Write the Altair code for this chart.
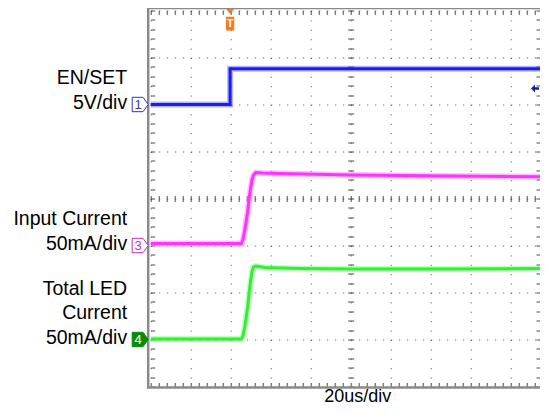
import altair as alt
import pandas as pd

# ---------------- time base / screen ----------------
T_MIN = -100.0          # left edge of the screen (us)
T_MAX = 94.65           # right edge kept inside the page (us)
US_PER_DIV = 20.0
N_XDIV = 10
N_YDIV = 4              # +-4 vertical divisions
timebase_label = "20us/div"

# ---------------- channels ----------------
ch_names = ["EN/SET", "Input Current", "Total LED Current"]
ch_numbers = ["1", "3", "4"]
ch_offset_div = [2.0, -1.0, -3.0]
ch_per_div = [5.0, 50.0, 50.0]          # V/div, mA/div, mA/div
ch_colors = ["#1a1aff", "#ff33ff", "#33ee33"]
ch_halo = ["#6a6aff", "#ff80ff", "#80ff80"]
ch_label_lines = [["EN/SET", "5V/div"],
                  ["Input Current", "50mA/div"],
                  ["Total LED", "Current", "50mA/div"]]
ch_marker_fill = ["#ffffff", "#ffffff", "#0a8a0a"]
ch_marker_stroke = ["#3434c8", "#c030c0", "#0a8a0a"]
ch_number_color = ["#3434c8", "#c030c0", "#ffffff"]

# ---------------- traces ----------------
ch1_t = [-100.0, -60.3, -60.3, 94.65]
ch1_v = [0.0, 0.0, 3.8, 3.8]
ch3_t = [-100.0, -54.6, -53.9, -52.9, -51.6, -50.4, -49.4, -48.6, -47.4, -44.4, -35.4, 0.0, 50.0, 94.65]
ch3_i = [2.0, 2.1, 5.9, 17.6, 34.6, 55.9, 69.7, 75.0, 77.7, 77.1, 76.6, 75.0, 73.9, 73.2]
ch4_t = [-100.0, -54.6, -53.9, -52.9, -51.6, -50.4, -49.4, -48.6, -47.4, -42.9, -25.4, 0.0, 50.0, 94.65]
ch4_i = [0.5, 0.5, 3.7, 14.4, 33.5, 55.9, 71.8, 77.1, 78.2, 76.6, 75.5, 75.0, 75.0, 75.5]

trigger_t = -60.3
ch1_trigger_level_v = 1.7

# ---------------- layout ----------------
W = 389.3
H = 376.0
GRID = "#4a4a4a"
FONT = "Liberation Sans"
LINE_PX = 24.5
PX_PER_DIV_Y = H / (2 * N_YDIV)
X_CENTER_PX = (0 - T_MIN) / (T_MAX - T_MIN) * W

# ---------------- data frames ----------------
rows = []
for k, (ts, vs) in enumerate([(ch1_t, ch1_v), (ch3_t, ch3_i), (ch4_t, ch4_i)]):
    for i, (t, v) in enumerate(zip(ts, vs)):
        rows.append({"ch": ch_names[k], "t": t, "y": ch_offset_div[k] + v / ch_per_div[k], "i": i})
traces = pd.DataFrame(rows)

lab_rows = []
for k, lines in enumerate(ch_label_lines):
    n = len(lines)
    for j, txt in enumerate(lines):
        lab_rows.append({"t": T_MIN, "y": ch_offset_div[k] + (n - 1 - j) * LINE_PX / PX_PER_DIV_Y, "txt": txt})
labels = pd.DataFrame(lab_rows)

markers = pd.DataFrame({"t": [T_MIN] * 3, "y": ch_offset_div, "ch": ch_names, "num": ch_numbers})
trig = pd.DataFrame({"t": [trigger_t], "y": [N_YDIV], "txt": ["T"]})
arrow = pd.DataFrame({"t": [T_MAX], "y": [ch_offset_div[0] + ch1_trigger_level_v / ch_per_div[0]]})
frame = pd.DataFrame({"t0": [T_MIN], "t1": [T_MAX + 5], "y0": [-N_YDIV], "y1": [N_YDIV]})
tb = pd.DataFrame({"t": [0.0], "y": [-N_YDIV], "txt": [timebase_label]})

xs = alt.Scale(domain=[T_MIN, T_MAX], nice=False, zero=False)
ys = alt.Scale(domain=[-N_YDIV, N_YDIV], nice=False, zero=False)

x_major = [T_MIN + k * US_PER_DIV for k in range(N_XDIV)]
x_minor = [T_MIN + k * US_PER_DIV / 5 for k in range(N_XDIV * 5)]
y_major = list(range(-N_YDIV, N_YDIV + 1))
y_minor = [round(k * 0.2, 2) for k in range(-5 * N_YDIV, 5 * N_YDIV + 1)]


def grid_axis(values, dash):
    return alt.Axis(values=values, grid=True, gridDash=dash, gridColor=GRID, gridWidth=1,
                    gridOpacity=1, domain=False, ticks=False, labels=False, title=None)


def tick_axis(values, orient, offset, size):
    return alt.Axis(values=values, orient=orient, offset=offset, grid=False, domain=False,
                    ticks=True, tickSize=size, tickColor=GRID, tickWidth=1, labels=False, title=None)


frame_layer = alt.Chart(frame).mark_rect(
    filled=False, stroke="#8a8a8a", strokeWidth=2.5, xOffset=-2.5, yOffset=1, y2Offset=-2.5
).encode(
    x=alt.X("t0:Q", scale=xs, axis=None), x2="t1:Q",
    y=alt.Y("y0:Q", scale=ys, axis=None), y2="y1:Q",
)

halo_layer = alt.Chart(traces).mark_line(strokeWidth=6, opacity=0.5).encode(
    x=alt.X("t:Q", scale=xs, axis=None),
    y=alt.Y("y:Q", scale=ys, axis=None),
    stroke=alt.Stroke("ch:N", scale=alt.Scale(domain=ch_names, range=ch_halo), legend=None),
    order=alt.Order("i:Q"),
)

trace_layer = alt.Chart(traces).mark_line(strokeWidth=3).encode(
    x=alt.X("t:Q", scale=xs, axis=grid_axis(x_major, [1, 8.4])),
    y=alt.Y("y:Q", scale=ys, axis=grid_axis(y_major, [1, 7])),
    color=alt.Color("ch:N", scale=alt.Scale(domain=ch_names, range=ch_colors), legend=None),
    order=alt.Order("i:Q"),
)

label_layer = alt.Chart(labels).mark_text(
    align="right", baseline="middle", dx=-23.5, dy=-2, fontSize=19.5, font=FONT, color="black"
).encode(
    x=alt.X("t:Q", scale=xs, axis=tick_axis(x_minor, "bottom", -H, 4)),
    y=alt.Y("y:Q", scale=ys, axis=tick_axis(y_minor, "right", -W, 4)),
    text="txt:N",
)

marker_path = "M-1,-0.9 L0.35,-0.9 L1,0 L0.35,0.9 L-1,0.9 Z"
marker_layer = alt.Chart(markers).mark_point(
    shape=marker_path, size=256, filled=True, strokeWidth=1, xOffset=-10.5, opacity=1
).encode(
    x=alt.X("t:Q", scale=xs, axis=tick_axis(x_minor, "top", -H, 4)),
    y=alt.Y("y:Q", scale=ys, axis=tick_axis(y_minor, "left", -W, 4)),
    fill=alt.Fill("ch:N", scale=alt.Scale(domain=ch_names, range=ch_marker_fill), legend=None),
    stroke=alt.Stroke("ch:N", scale=alt.Scale(domain=ch_names, range=ch_marker_stroke), legend=None),
)

number_layer = alt.Chart(markers).mark_text(
    align="center", baseline="middle", dx=-12.5, dy=0.5, fontSize=13, font=FONT
).encode(
    x=alt.X("t:Q", scale=xs, axis=tick_axis(x_minor, "top", -H / 2, 3)),
    y=alt.Y("y:Q", scale=ys, axis=tick_axis(y_minor, "left", -X_CENTER_PX, 3)),
    text="num:N",
    color=alt.Color("ch:N", scale=alt.Scale(domain=ch_names, range=ch_number_color), legend=None),
)

trig_path = "M-0.36,-0.95 L0.36,-0.95 L0,-0.5 Z M-0.38,-0.25 L0.38,-0.25 L0.38,1 L-0.38,1 Z"
trig_layer = alt.Chart(trig).mark_point(
    shape=trig_path, size=484, filled=True, color="#f47b20", opacity=1, yOffset=9
).encode(
    x=alt.X("t:Q", scale=xs, axis=tick_axis(x_minor, "bottom", -H / 2, 3)),
    y=alt.Y("y:Q", scale=ys, axis=tick_axis(y_minor, "right", X_CENTER_PX - W, 3)),
)

trig_text = alt.Chart(trig).mark_text(
    align="center", baseline="middle", dy=13.2, fontSize=11, fontWeight="bold", font=FONT, color="white"
).encode(
    x=alt.X("t:Q", scale=xs, axis=None),
    y=alt.Y("y:Q", scale=ys, axis=None),
    text="txt:N",
)

arrow_path = "M-1,0 L0,-1 L0,-0.3 L1,-0.3 L1,0.3 L0,0.3 L0,1 Z"
arrow_layer = alt.Chart(arrow).mark_point(
    shape=arrow_path, size=64, filled=True, color="#1f1f9f", opacity=1, xOffset=-5
).encode(
    x=alt.X("t:Q", scale=xs, axis=None),
    y=alt.Y("y:Q", scale=ys, axis=None),
)

tb_layer = alt.Chart(tb).mark_text(
    align="center", baseline="alphabetic", dx=7, dy=15.5, fontSize=18, font=FONT, color="black"
).encode(
    x=alt.X("t:Q", scale=xs, axis=None),
    y=alt.Y("y:Q", scale=ys, axis=None),
    text="txt:N",
)

chart = alt.layer(
    frame_layer, halo_layer, trace_layer, label_layer, marker_layer, number_layer, trig_layer,
    trig_text, arrow_layer, tb_layer,
).resolve_axis(
    x="independent", y="independent"
).resolve_scale(
    color="independent", stroke="independent", fill="independent"
).properties(
    width=W, height=H,
    autosize=alt.AutoSizeParams(type="none"),
    padding={"left": 142.7, "top": 2.5, "right": 0, "bottom": 19.5},
    background="white",
).configure_view(stroke=None)

chart.save("out.html", embed_options={"renderer": "svg", "actions": False})
